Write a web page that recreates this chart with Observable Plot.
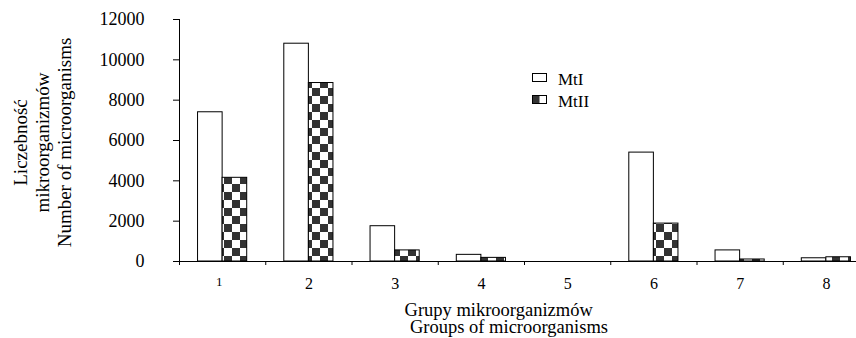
<!DOCTYPE html>
<html>
<head>
<meta charset="utf-8">
<script src="https://cdn.jsdelivr.net/npm/d3@7"></script>
<script src="https://cdn.jsdelivr.net/npm/@observablehq/plot@0.6"></script>
<style>
  html, body { margin: 0; padding: 0; background: #fff; overflow: hidden; }
  #chart { width: 856px; height: 338px; overflow: hidden; }
  #chart svg { display: block; max-width: none !important; }
</style>
</head>
<body>
<div id="chart"></div>
<script>
const groups = [1, 2, 3, 4, 5, 6, 7, 8];
const mtI  = [7400, 10800, 1750, 330, 0, 5400, 550, 160];
const mtII = [4150, 8850, 550, 180, 0, 1880, 100, 210];
const yTicks = [0, 2000, 4000, 6000, 8000, 10000, 12000];
const seriesNames = ["MtI", "MtII"];
const yTitle = "Liczebność\nmikroorganizmów\nNumber of microorganisms";
const xTitle1 = "Grupy mikroorganizmów";
const xTitle2 = "Groups of microorganisms";

const half = 0.285; // half-width of a bar pair, in group units
const rows = [];
groups.forEach((g, i) => {
  rows.push({group: g, series: "MtI", value: mtI[i], x1: g - half, x2: g});
  rows.push({group: g, series: "MtII", value: mtII[i], x1: g, x2: g + half});
});
const boundaries = d3.range(0.5, 8.51, 1);
const font = "'Liberation Serif', 'Times New Roman', serif";

const plot = Plot.plot({
  width: 880,
  height: 338,
  marginLeft: 179,
  marginRight: 11,
  marginTop: 19,
  marginBottom: 77,
  style: {fontFamily: font, fontSize: "16px", color: "#000", background: "#fff", maxWidth: "none"},
  x: {domain: [0.5, 8.5], axis: null},
  y: {domain: [0, 12000], axis: null},
  marks: [
    Plot.rectY(rows.filter(d => d.series === "MtI"), {x1: "x1", x2: "x2", y: "value", fill: "#fff", stroke: "#000", strokeWidth: 1}),
    Plot.rectY(rows.filter(d => d.series === "MtII"), {x1: "x1", x2: "x2", y: "value", fill: "url(#checker)", stroke: "#000", strokeWidth: 1}),
    Plot.ruleY([0], {stroke: "#000"}),
    Plot.ruleX([0.5], {stroke: "#000"}),
    Plot.axisY({ticks: yTicks, tickSize: 6, tickFormat: () => "", label: null}),
    Plot.text(yTicks, {y: d => d, frameAnchor: "left", textAnchor: "end", lineAnchor: "middle", dx: -35, text: d => String(d), fontSize: 18, fontFamily: font}),
    Plot.axisX({ticks: boundaries, tickSize: 4, tickFormat: () => "", label: null}),
    Plot.text(groups.filter(g => g !== 1), {x: d => d, frameAnchor: "bottom", lineAnchor: "middle", dy: 22, text: d => String(d), fontSize: 16, fontFamily: font}),
    Plot.text([1], {x: d => d - 0.04, frameAnchor: "bottom", lineAnchor: "middle", dy: 20, text: d => String(d), fontSize: 13, fontFamily: font}),
    Plot.text([yTitle], {frameAnchor: "left", textAnchor: "middle", lineAnchor: "middle", dx: -138, dy: 2, rotate: -90, text: d => d, fontSize: 19, lineHeight: 1.16, fontFamily: font}),
    Plot.text([xTitle1], {x: 4.2, frameAnchor: "bottom", lineAnchor: "middle", dy: 49, text: d => d, fontSize: 18.5, fontFamily: font}),
    Plot.text([xTitle2], {x: 4.32, frameAnchor: "bottom", lineAnchor: "middle", dy: 66, text: d => d, fontSize: 18.5, fontFamily: font})
  ]
});

const svg = d3.select(plot);
svg.selectAll("text").style("font-family", font);
const defs = svg.insert("defs", ":first-child");
const pat = defs.append("pattern")
  .attr("id", "checker")
  .attr("patternUnits", "userSpaceOnUse")
  .attr("width", 16).attr("height", 16);
pat.append("rect").attr("width", 16).attr("height", 16).attr("fill", "#fff");
pat.append("rect").attr("x", 0).attr("y", 0).attr("width", 8).attr("height", 8).attr("fill", "#333");
pat.append("rect").attr("x", 8).attr("y", 8).attr("width", 8).attr("height", 8).attr("fill", "#333");

// legend
const lg = svg.append("g").attr("font-family", font).attr("font-size", 17).attr("text-anchor", "start");
seriesNames.forEach((name, i) => {
  const y = 73 + i * 22;
  const g = lg.append("g").attr("transform", `translate(532.5,${y + 0.5})`);
  if (i === 0) {
    g.append("rect").attr("width", 14).attr("height", 8).attr("fill", "#fff").attr("stroke", "#000");
  } else {
    g.append("rect").attr("width", 7).attr("height", 8).attr("fill", "#333");
    g.append("rect").attr("width", 14).attr("height", 8).attr("fill", "none").attr("stroke", "#000");
  }
  g.append("text").attr("x", 25.5).attr("y", 11).style("font-family", font).text(name);
});

document.getElementById("chart").append(plot);
</script>
</body>
</html>
